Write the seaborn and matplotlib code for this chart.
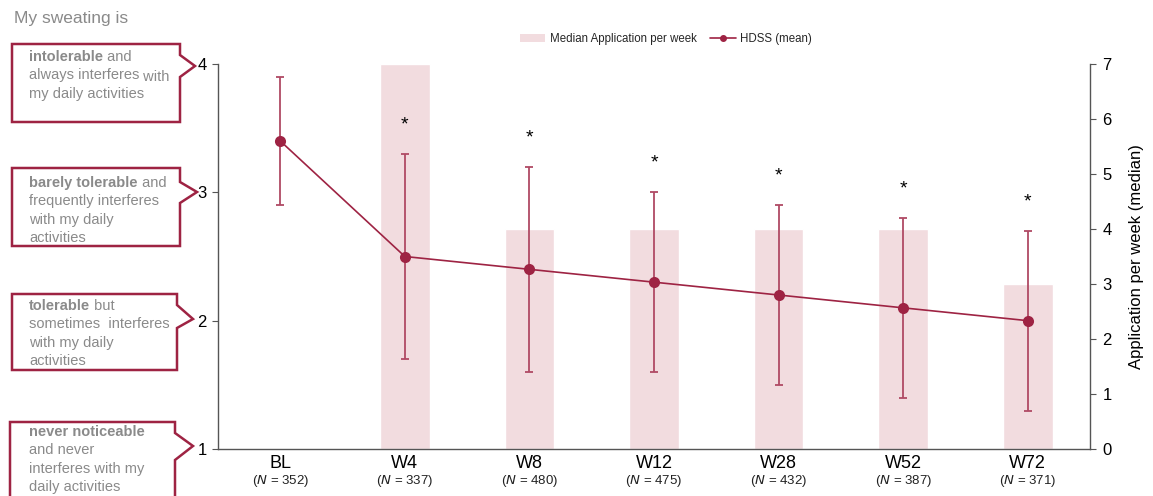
import numpy as np
import matplotlib
matplotlib.use('Agg')
import matplotlib.pyplot as plt
import seaborn as sns
from matplotlib.patches import Patch, Polygon
from matplotlib.lines import Line2D
from matplotlib.text import Annotation

# ---- data ----
groups = ['BL', 'W4', 'W8', 'W12', 'W28', 'W52', 'W72']
n_patients = [352, 337, 480, 475, 432, 387, 371]
applications = [np.nan, 7, 4, 4, 4, 4, 3]        # median application per week
hdss_mean = [3.4, 2.5, 2.4, 2.3, 2.2, 2.1, 2.0]
hdss_low = [2.9, 1.7, 1.6, 1.6, 1.5, 1.4, 1.3]
hdss_high = [3.9, 3.3, 3.2, 3.0, 2.9, 2.8, 2.7]
significant = [False, True, True, True, True, True, True]

levels = [4, 3, 2, 1]
level_bold = ['intolerable', 'barely tolerable', 'tolerable', 'never noticeable']
level_tail = [' and', ' and', ' but', '']
level_lines = [['always interferes', 'my daily activities'],
               ['frequently interferes', 'with my daily', 'activities'],
               ['sometimes  interferes', 'with my daily', 'activities'],
               ['and never', 'interferes with my', 'daily activities']]

RED = '#9e2343'
PINK = '#f2dcdf'
GREY = '#8a8a8a'
SPINE = '#555555'

sns.set_theme(style='white')
plt.rcParams['font.family'] = ['Liberation Sans', 'DejaVu Sans']

W, H = 1153, 496
fig = plt.figure(figsize=(W / 100, H / 100), dpi=100)
ax = fig.add_axes([218 / W, 1 - 449 / H, (1090 - 218) / W, (449 - 64) / H])

# bars (right scale)
sns.barplot(x=groups, y=applications, color=PINK, saturation=1, width=0.4,
            ax=ax, zorder=1)
ax.set_xlim(-0.5, len(groups) - 0.5)
ax.set_xlabel('')
ax.tick_params(axis='x', bottom=False, length=0, labelsize=13, pad=4, labelcolor='black')

for i, n in enumerate(n_patients):
    ax.annotate(f'($\\it{{N}}$ = {n})', xy=(i, 0), xycoords=('data', 'axes fraction'),
                xytext=(0, -23), textcoords='offset points', ha='center', va='center',
                fontsize=9.5, color='#222222')

# HDSS line (left scale)
ax2 = ax.twinx()
x = np.arange(len(groups))
ax2.errorbar(x, hdss_mean,
             yerr=[np.array(hdss_mean) - np.array(hdss_low),
                   np.array(hdss_high) - np.array(hdss_mean)],
             fmt='none', ecolor='#b04a65', elinewidth=1.3, capsize=3, capthick=1.3,
             zorder=3)
sns.lineplot(x=x, y=hdss_mean, color=RED, marker='o', markersize=8,
             markeredgewidth=0, linewidth=1.2, ax=ax2, zorder=4)
for i, flag in enumerate(significant):
    if flag:
        ax2.text(i, hdss_high[i] + 0.16, '*', ha='center', va='bottom', fontsize=14,
                 color='black')
ax2.set_ylim(1, 4)
ax2.set_yticks(levels)
ax2.yaxis.tick_left()
ax2.tick_params(axis='y', left=True, right=False, labelleft=True, labelright=False,
                length=4, width=0.8, color=SPINE, labelsize=12, pad=4,
                labelcolor='black')
for s in ['top', 'right', 'bottom']:
    ax2.spines[s].set_visible(False)
ax2.spines['left'].set_visible(True)
ax2.spines['left'].set_color(SPINE)
ax2.spines['left'].set_linewidth(1)

# the bar axis gets its ticks on the right (twinx moved them)
ax.set_ylim(0, 7)
ax.yaxis.tick_right()
ax.yaxis.set_label_position('right')
ax.tick_params(axis='y', right=True, left=False, labelright=True, labelleft=False,
               length=4, width=0.8, color=SPINE, labelsize=12, pad=5,
               labelcolor='black')
ax.set_ylabel('Application per week (median)', fontsize=12, labelpad=12, color='black')
for s in ['top', 'left']:
    ax.spines[s].set_visible(False)
for s in ['right', 'bottom']:
    ax.spines[s].set_color(SPINE)
    ax.spines[s].set_linewidth(1)

# legend
handles = [Patch(facecolor=PINK, edgecolor='none'),
           Line2D([0], [0], color=RED, marker='o', markersize=4, linewidth=1.2)]
fig.legend(handles, ['Median Application per week', 'HDSS (mean)'],
           loc='center', bbox_to_anchor=(666 / W, 1 - 39 / H), ncol=2, frameon=False,
           fontsize=8.3, handlelength=2.2, columnspacing=1.2, handletextpad=0.4)

# left-hand callouts
fig.text(14 / W, 1 - 19 / H, 'My sweating is', fontsize=12.5, color=GREY, va='center')


def px(xp, yp):
    return (xp / W, 1 - yp / H)


# box outline in pixels: left, top, right, bottom, notch from/to, arrow tip, first baseline
boxes = [(12, 44, 180, 122, 55, 77, 195, 66, 17),
         (12, 168, 180, 246, 182, 203, 197, 192, 19),
         (12, 294, 177, 370, 305, 328, 193, 319, 16),
         (10, 422, 175, 520, 433, 460, 193, 446, 14)]
for (l, t, r, b, a1, a2, tx, ty, off), bold, tail, lines in zip(boxes, level_bold,
                                                                 level_tail, level_lines):
    poly = Polygon([px(l, t), px(r, t), px(r, a1), px(tx, ty), px(r, a2), px(r, b),
                    px(l, b)], closed=True, transform=fig.transFigure,
                   facecolor='white', edgecolor=RED, linewidth=1.8, clip_on=False)
    fig.add_artist(poly)
    t0 = fig.text(29 / W, 1 - (t + off) / H, bold, fontsize=10.5, fontweight='bold',
                  color=GREY, va='baseline')
    if tail:
        fig.add_artist(Annotation(tail, xy=(1, 0), xycoords=t0, va='bottom',
                                  ha='left', fontsize=10.5, color=GREY))
    for k, line in enumerate(lines):
        tl = fig.text(29 / W, 1 - (t + off + 18.4 * (k + 1)) / H, line, fontsize=10.5,
                      color=GREY, va='baseline')
        if bold == 'intolerable' and k == 0:
            fig.add_artist(Annotation(' with', xy=(1, 0), xycoords=tl, va='top',
                                      ha='left', fontsize=10.5, color=GREY,
                                      xytext=(0, 9), textcoords='offset points'))

fig.savefig('out.png', dpi=100)
